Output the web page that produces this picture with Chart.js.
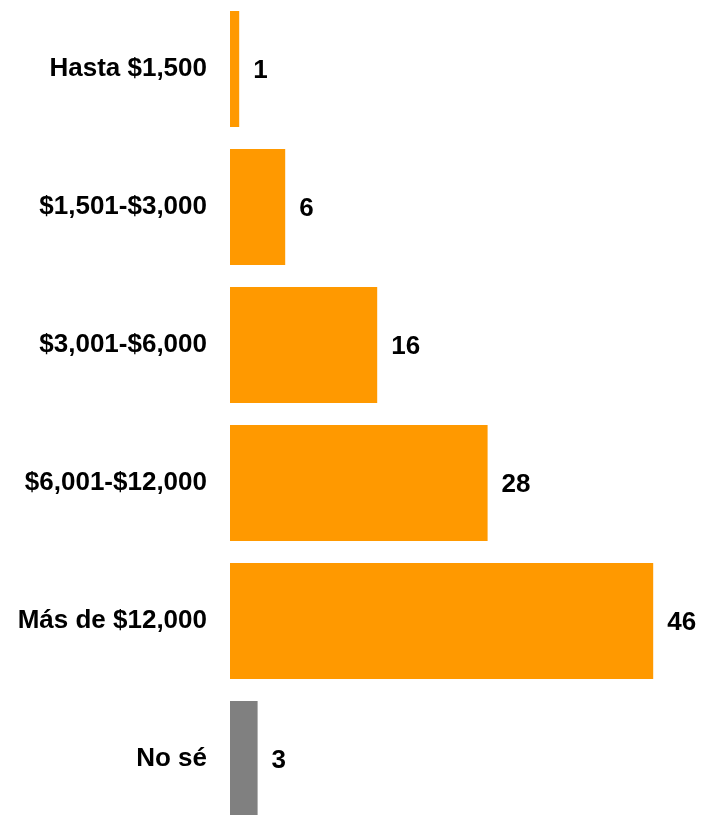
<!DOCTYPE html>
<html>
<head>
<meta charset="utf-8">
<script src="https://cdn.jsdelivr.net/npm/chart.js@4/dist/chart.umd.min.js"></script>
<style>
  html, body { margin: 0; padding: 0; background: #fff; overflow: hidden; }
  canvas { display: block; }
</style>
</head>
<body>
<canvas id="bar-chart" width="702" height="828"></canvas>
<script>
const categories = ["Hasta $1,500", "$1,501-$3,000", "$3,001-$6,000", "$6,001-$12,000", "Más de $12,000", "No sé"];
const values = [1, 6, 16, 28, 46, 3];
const barColors = ["#ff9900", "#ff9900", "#ff9900", "#ff9900", "#ff9900", "#808080"];

const fontFamily = "'Liberation Sans', Arial, sans-serif";

// value labels to the right of each bar
const valueLabels = {
   id: 'valueLabels',
   afterDatasetsDraw(chart) {
      const ctx = chart.ctx;
      const meta = chart.getDatasetMeta(0);
      ctx.save();
      ctx.font = "bold 26px " + fontFamily;
      ctx.fillStyle = "#000";
      ctx.textAlign = "left";
      ctx.textBaseline = "middle";
      meta.data.forEach((bar, i) => {
         ctx.fillText(values[i], bar.x + 14, bar.y + 2);
      });
      ctx.restore();
   }
};

new Chart(document.getElementById("bar-chart"), {
   type: 'bar',
   data: {
      labels: categories,
      datasets: [{
         data: values,
         backgroundColor: barColors,
         borderWidth: 0,
         categoryPercentage: 1,
         barPercentage: 0.84
      }]
   },
   options: {
      indexAxis: 'y',
      responsive: false,
      animation: false,
      devicePixelRatio: 1,
      layout: { autoPadding: false, padding: { top: 0, bottom: 0, left: 0, right: 12 } },
      plugins: {
         legend: { display: false },
         tooltip: { enabled: false }
      },
      scales: {
         x: {
            display: false,
            min: 0,
            max: 50
         },
         y: {
            afterFit: s => {
               s.width = 230;
               s.paddingTop = 0;
               s.paddingBottom = 0;
            },
            grid: { display: false, drawTicks: false },
            border: { display: false },
            ticks: {
               padding: 23,
               color: "#000",
               font: { family: fontFamily, size: 26, weight: 'bold' }
            }
         }
      }
   },
   plugins: [valueLabels]
});
</script>
</body>
</html>
